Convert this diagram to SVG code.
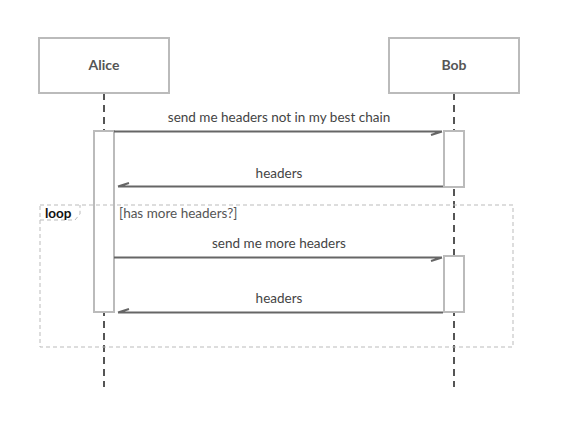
<svg xmlns="http://www.w3.org/2000/svg" width="565" height="422" viewBox="0 0 565 422">
<style>
.actor{fill:#fff;stroke:#bbb;stroke-width:2}
.atext{font-family:Lato,"Open Sans",sans-serif;font-size:14px;font-weight:bold;fill:#555;text-anchor:middle}
.life{stroke:#555;stroke-width:2;stroke-dasharray:7,5}
.act{fill:#fff;stroke:#bbb;stroke-width:2}
.msg{stroke:#666;stroke-width:2;fill:none}
.mtext{font-family:Lato,"Open Sans",sans-serif;font-size:13.5px;fill:#444;text-anchor:middle}
.loop{fill:none;stroke:#bbb;stroke-width:1;stroke-dasharray:4,3}
.ltext{font-family:Lato,"Open Sans",sans-serif;font-size:13.5px;fill:#555}
</style>
<rect width="565" height="422" fill="#fff"/>
<g id="lifelines">
<line class="life" x1="104" y1="93" x2="104" y2="387"/>
<line class="life" x1="454" y1="93" x2="454" y2="387"/>
</g>
<g id="Alice">
<rect class="actor" x="39" y="38" width="130" height="55"/>
<text class="atext" x="104" y="70">Alice</text>
</g>
<g id="Bob">
<rect class="actor" x="389" y="38" width="130" height="55"/>
<text class="atext" x="454" y="70">Bob</text>
</g>
<g id="activations">
<rect class="act" x="94" y="131" width="20" height="181"/>
<rect class="act" x="444" y="131" width="20" height="56"/>
<rect class="act" x="444" y="256" width="20" height="56"/>
</g>
<g id="loop">
<rect class="loop" x="40" y="205" width="473" height="142"/>
<path class="loop" d="M40,220 H75 L80,214 V205"/>
<text class="ltext" x="45" y="218" font-weight="bold" style="fill:#111">loop</text>
<text class="ltext" x="119" y="218">[has more headers?]</text>
</g>
<g id="connectors">
<path class="msg" d="M114,131.5 H442 M442,131.5 L431,135"/>
<text class="mtext" x="279" y="122">send me headers not in my best chain</text>
<path class="msg" d="M443,186.5 H118 M118,186.5 L129,183"/>
<text class="mtext" x="279" y="178">headers</text>
<path class="msg" d="M114,257.5 H442 M442,257.5 L431,261"/>
<text class="mtext" x="279" y="248">send me more headers</text>
<path class="msg" d="M443,312.5 H118 M118,312.5 L129,309"/>
<text class="mtext" x="279" y="303">headers</text>
</g>
</svg>
